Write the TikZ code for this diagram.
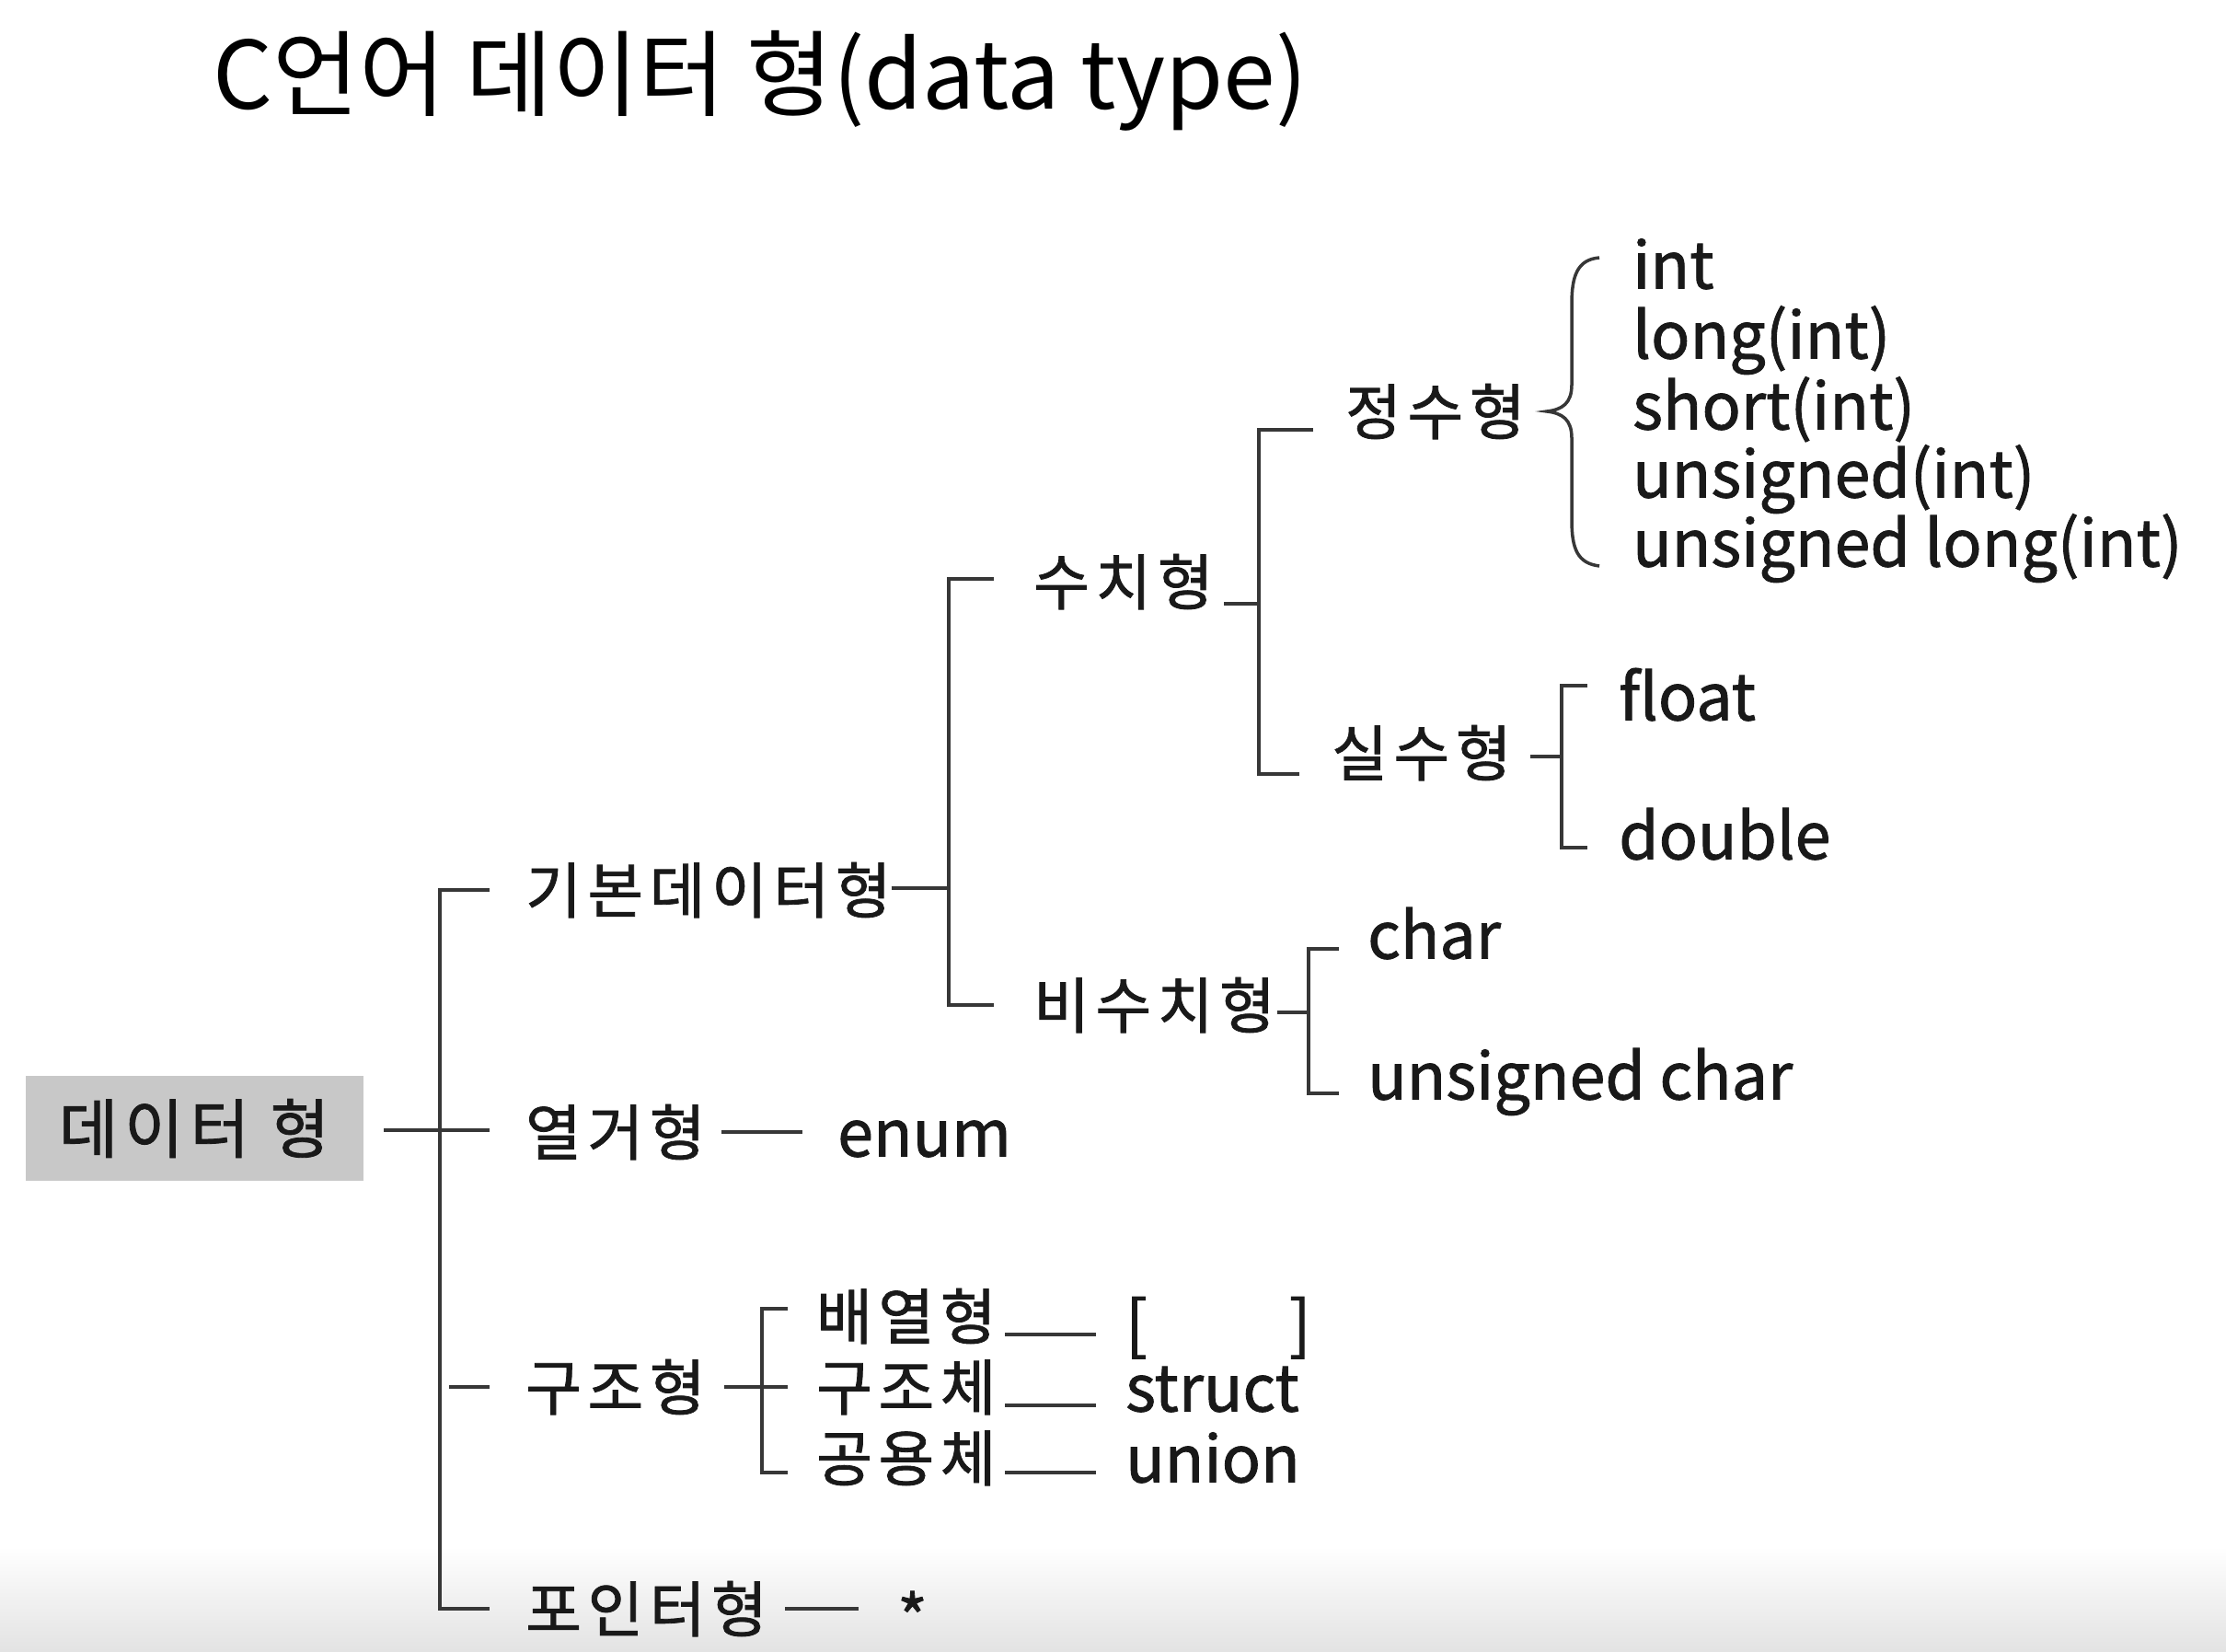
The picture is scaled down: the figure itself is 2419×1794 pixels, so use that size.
\documentclass[tikz,border=0pt]{standalone}
\usepackage{fontspec}
\setmainfont{Noto Sans CJK KR}
\newfontfamily\kr{Noto Sans CJK KR}[LetterSpace=10, FakeBold=1.2]
\newfontfamily\lt{Noto Sans CJK KR}[FakeBold=1.2]
\definecolor{ln}{RGB}{55,55,55}
\definecolor{tx}{RGB}{25,25,25}
\definecolor{boxgray}{RGB}{200,200,200}
\tikzset{
  con/.style={draw=ln, line width=4.5pt},
  lbl/.style={anchor=west, inner sep=0pt, text=tx, text height=50pt, text depth=0pt, font=\kr\fontsize{66}{72}\selectfont},
  lat/.style={anchor=west, inner sep=0pt, text=tx, text height=53pt, text depth=0pt, font=\lt\fontsize{70}{78}\selectfont},
  rootbox/.style={fill=boxgray, minimum width=367pt, minimum height=114pt, inner sep=0pt, text=tx, font=\kr\fontsize{70}{78}\selectfont}
}
\begin{document}
\begin{tikzpicture}[x=1pt,y=-1pt]
\useasboundingbox (0,0) rectangle (2419,1794);
\fill[white] (0,0) rectangle (2419,1794);
\shade[top color=white, bottom color=gray!22] (0,1680) rectangle (2419,1794);

% title
\node[anchor=west, inner sep=0pt, text=black, font=\fontsize{102}{112}\selectfont] (title) at (231,88) {C언어 데이터 형(data type)};

% root
\node[rootbox] (root) at (211,1226) {데이터 형};

% level 1 labels
\node[lbl] (kibon) at (571,967) {기본데이터형};
\node[lbl] (yeol) at (571,1230) {열거형};
\node[lbl] (gujo) at (571,1507) {구조형};
\node[lbl] (ptr) at (571,1748) {포인터형};

% level 2
\node[lbl] (suchi) at (1123,632) {수치형};
\node[lbl] (bisu) at (1123,1092) {비수치형};

% level 3
\node[lbl] (jeong) at (1462,447) {정수형};
\node[lbl] (silsu) at (1447,818) {실수형};

% leaves
\node[lat] (i1) at (1774,287) {int};
\node[lat] (i2) at (1774,363) {long(int)};
\node[lat] (i3) at (1774,440) {short(int)};
\node[lat] (i4) at (1774,514) {unsigned(int)};
\node[lat] (i5) at (1774,589) {unsigned long(int)};
\node[lat] (fl) at (1759,756) {float};
\node[lat] (db) at (1759,907) {double};
\node[lat] (ch) at (1486,1015) {char};
\node[lat] (uch) at (1486,1168) {unsigned char};
\node[lat] (en) at (910,1230) {enum};

\node[lbl] (bae) at (887,1430) {배열형};
\node[lbl] (gjc) at (887,1507) {구조체};
\node[lbl] (gyc) at (887,1584) {공용체};
\node[lat] (arr) at (1223,1438) {[\hspace{2.2em}]};
\node[lat] (st) at (1223,1507) {struct};
\node[lat] (un) at (1223,1584) {union};
\node[lat] (star) at (975,1758) {*};

% level-1 tree
\coordinate (a1) at (532,967);
\coordinate (a2) at (478,967);
\coordinate (a3) at (478,1748);
\coordinate (a4) at (532,1748);
\draw[con] (a1) -- (a2) -- (a3) -- (a4);
\coordinate (r1) at (417,1228);
\coordinate (r2) at (532,1228);
\draw[con] (r1) -- (r2);
\coordinate (g1) at (488,1507);
\coordinate (g2) at (532,1507);
\draw[con] (g1) -- (g2);

% kibon -> trunk2
\coordinate (b0) at (1031,965);
\draw[con] (kibon.east |- b0) -- (b0);
\coordinate (b1) at (1080,629);
\coordinate (b2) at (1031,629);
\coordinate (b3) at (1031,1092);
\coordinate (b4) at (1080,1092);
\draw[con] (b1) -- (b2) -- (b3) -- (b4);

% suchi -> trunk3
\coordinate (c0a) at (1330,656);
\coordinate (c0b) at (1368,656);
\draw[con] (c0a) -- (c0b);
\coordinate (c1) at (1427,467);
\coordinate (c2) at (1368,467);
\coordinate (c3) at (1368,841);
\coordinate (c4) at (1412,841);
\draw[con] (c1) -- (c2) -- (c3) -- (c4);

% brace for jeongsu
\coordinate (br1) at (1738,280);
\coordinate (brt) at (1681,447);
\coordinate (br2) at (1738,615);
\draw[ln, line width=3.5pt] (br1) .. controls (1714,282) and (1708,300) .. (1708,330) -- (1708,418)
  .. controls (1708,438) and (1698,445) .. (brt)
  .. controls (1698,449) and (1708,456) .. (1708,476) -- (1708,565)
  .. controls (1708,596) and (1714,612) .. (br2);

% silsu bracket
\coordinate (d0a) at (1663,822);
\coordinate (d0b) at (1697,822);
\draw[con] (d0a) -- (d0b);
\coordinate (d1) at (1725,745);
\coordinate (d2) at (1697,745);
\coordinate (d3) at (1697,921);
\coordinate (d4) at (1725,921);
\draw[con] (d1) -- (d2) -- (d3) -- (d4);

% bisu bracket
\coordinate (e0a) at (1388,1100);
\coordinate (e0b) at (1422,1100);
\draw[con] (e0a) -- (e0b);
\coordinate (e1) at (1455,1031);
\coordinate (e2) at (1422,1031);
\coordinate (e3) at (1422,1188);
\coordinate (e4) at (1455,1188);
\draw[con] (e1) -- (e2) -- (e3) -- (e4);

% yeolgeo -> enum
\coordinate (f1) at (784,1230);
\coordinate (f2) at (872,1230);
\draw[con] (f1) -- (f2);

% gujo bracket
\coordinate (h0a) at (787,1507);
\coordinate (h0b) at (856,1507);
\draw[con] (h0a) -- (h0b);
\coordinate (h1) at (856,1422);
\coordinate (h2) at (828,1422);
\coordinate (h3) at (828,1600);
\coordinate (h4) at (856,1600);
\draw[con] (h1) -- (h2) -- (h3) -- (h4);

% sub lines
\coordinate (k1a) at (1092,1450); \coordinate (k1b) at (1191,1450);
\coordinate (k2a) at (1092,1527); \coordinate (k2b) at (1191,1527);
\coordinate (k3a) at (1092,1600); \coordinate (k3b) at (1191,1600);
\draw[con] (k1a) -- (k1b);
\draw[con] (k2a) -- (k2b);
\draw[con] (k3a) -- (k3b);

% pointer line
\coordinate (p1) at (853,1748);
\coordinate (p2) at (933,1748);
\draw[con] (p1) -- (p2);
\end{tikzpicture}
\end{document}
